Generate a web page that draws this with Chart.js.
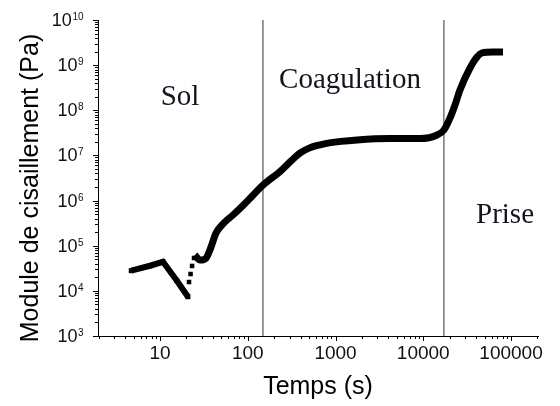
<!DOCTYPE html>
<html><head><meta charset="utf-8">
<script src="https://cdn.jsdelivr.net/npm/chart.js@4/dist/chart.umd.min.js"></script>
<style>html,body{margin:0;padding:0;background:#fff}#wrap{width:560px;height:406px}</style>
</head><body><div id="wrap"><canvas id="c" width="560" height="406"></canvas></div>
<script>
// Sol phase: initial decrease
const solTime = [4.7, 7.7, 10.8, 15.5, 20.8];
const solModulus = [2.8e4, 3.6e4, 4.4e4, 1.7e4, 7.4e3];
// recovery squares
const recoveryTime = [21.4, 22.3, 23.2, 24.4];
const recoveryModulus = [1.57e4, 2.36e4, 3.56e4, 5.35e4];
// coagulation + prise
const gelTime = [25, 28.6, 33.4, 38.1, 43.4, 53.6, 67.9, 88.3, 112, 149, 233, 319, 400, 500, 650, 850, 1760, 4180, 9180, 14350, 17200, 20200, 23000, 26200, 34100, 41000, 46800, 62400, 81000];
const gelModulus = [6.2e4, 4.8e4, 5.3e4, 9.3e4, 1.9e5, 3.2e5, 4.8e5, 7.8e5, 1.25e6, 2.2e6, 4.4e6, 7.9e6, 1.15e7, 1.45e7, 1.7e7, 1.9e7, 2.2e7, 2.37e7, 2.37e7, 2.84e7, 3.66e7, 6.77e7, 1.31e8, 2.82e8, 8.65e8, 1.52e9, 1.86e9, 1.95e9, 1.95e9];
// phase boundaries (s)
const boundaryTimes = [149, 17200];
const phaseLabels = ['Sol', 'Coagulation', 'Prise'];
const xTickLabels = ['10', '100', '1000', '10000', '100000'];
const yTickExponents = [3, 4, 5, 6, 7, 8, 9, 10];
const xTitle = 'Temps (s)';
const yTitle = 'Module de cisaillement (Pa)';

const pts = (xs, ys) => xs.map((v, i) => ({x: v, y: ys[i]}));

const decorations = {
  id: 'decorations',
  afterDraw(chart) {
    const {ctx, scales: {x, y}, chartArea: ca} = chart;
    ctx.save();
    ctx.strokeStyle = '#000';
    ctx.lineWidth = 1;
    // x ticks
    for (let e = 0; e <= 5; e++) for (let m = 1; m <= 9; m++) {
      const v = m * Math.pow(10, e);
      if (v < x.min || v > x.max) continue;
      const px = Math.round(x.getPixelForValue(v)) + 0.5;
      const len = m === 1 ? 5 : 3;
      ctx.beginPath(); ctx.moveTo(px, ca.bottom); ctx.lineTo(px, ca.bottom + len); ctx.stroke();
    }
    // y ticks
    for (let e = 3; e <= 10; e++) for (let m = 1; m <= 9; m++) {
      const v = m * Math.pow(10, e);
      if (v < y.min || v > y.max * 1.0001) continue;
      const py = Math.round(y.getPixelForValue(v)) + 0.5;
      const len = m === 1 ? 5 : 3;
      ctx.beginPath(); ctx.moveTo(ca.left, py); ctx.lineTo(ca.left - len, py); ctx.stroke();
    }
    // y tick labels with superscripts
    ctx.fillStyle = '#111';
    const right = ca.left - 15;
    yTickExponents.forEach(e => {
      const py = y.getPixelForValue(Math.pow(10, e));
      ctx.font = '10px "Liberation Sans", Arial, sans-serif';
      const ew = ctx.measureText(String(e)).width;
      ctx.font = '18px "Liberation Sans", Arial, sans-serif';
      const bw = ctx.measureText('10').width;
      ctx.textAlign = 'left';
      ctx.textBaseline = 'middle';
      ctx.fillText('10', right - ew - bw, py + 1);
      ctx.font = '10px "Liberation Sans", Arial, sans-serif';
      ctx.textBaseline = 'alphabetic';
      ctx.fillText(String(e), right - ew + 0.5, py + 0);
    });
    // y title
    ctx.save();
    ctx.translate(31, 188);
    ctx.rotate(-Math.PI / 2);
    ctx.font = '25px "Liberation Sans", Arial, sans-serif';
    ctx.textAlign = 'center';
    ctx.textBaseline = 'middle';
    ctx.fillStyle = '#000';
    ctx.fillText(yTitle, 0, 0);
    ctx.restore();
    // phase labels
    ctx.font = '29px "Liberation Serif", "Times New Roman", serif';
    ctx.fillStyle = '#141420';
    ctx.textAlign = 'center';
    ctx.textBaseline = 'alphabetic';
    ctx.fillText(phaseLabels[0], 180, 105);
    ctx.fillText(phaseLabels[1], 350, 88);
    ctx.fillText(phaseLabels[2], 505, 223);
    ctx.restore();
  }
};

const isPow10 = v => Math.abs(Math.log10(v) - Math.round(Math.log10(v))) < 1e-9;

new Chart(document.getElementById('c'), {
  type: 'scatter',
  data: {
    datasets: [
      {data: pts(solTime, solModulus), showLine: true, borderColor: '#000', backgroundColor: '#000',
        borderWidth: 6, pointStyle: 'rect', pointRadius: 3.5, pointBorderWidth: 0},
      {data: pts(recoveryTime, recoveryModulus), showLine: false, backgroundColor: '#000',
        pointStyle: 'rect', pointRadius: 3.2, pointBorderWidth: 0},
      {data: pts(gelTime, gelModulus), showLine: true, borderColor: '#000', borderWidth: 7,
        pointRadius: 0, cubicInterpolationMode: 'monotone', borderCapStyle: 'butt', borderJoinStyle: 'round'},
      ...boundaryTimes.map(t => ({data: [{x: t, y: 1e3}, {x: t, y: 1e10}], showLine: true,
        borderColor: '#333', borderWidth: 1, pointRadius: 0}))
    ]
  },
  options: {
    responsive: false, animation: false, devicePixelRatio: 1,
    layout: {padding: {left: 0, right: 22, top: 20, bottom: 0}},
    plugins: {legend: {display: false}, tooltip: {enabled: false}},
    scales: {
      x: {
        type: 'logarithmic', min: 1.965, max: 203000,
        grid: {display: false, drawTicks: false},
        border: {display: true, color: '#000', width: 1},
        ticks: {
          autoSkip: false, maxRotation: 0, padding: 6, color: '#111',
          font: {family: '"Liberation Sans", Arial, sans-serif', size: 19},
          callback: v => isPow10(v) && xTickLabels.includes(String(Math.round(v))) ? String(Math.round(v)) : ''
        },
        title: {display: true, text: xTitle, color: '#000',
          font: {family: '"Liberation Sans", Arial, sans-serif', size: 25}, padding: {top: 0, bottom: 4}},
        afterFit: s => { s.height = 70; }
      },
      y: {
        type: 'logarithmic', min: 1e3, max: 1e10,
        grid: {display: false, drawTicks: false},
        border: {display: true, color: '#000', width: 1},
        ticks: {display: false},
        afterFit: s => { s.width = 98; }
      }
    }
  },
  plugins: [decorations]
});
</script>
</body></html>
